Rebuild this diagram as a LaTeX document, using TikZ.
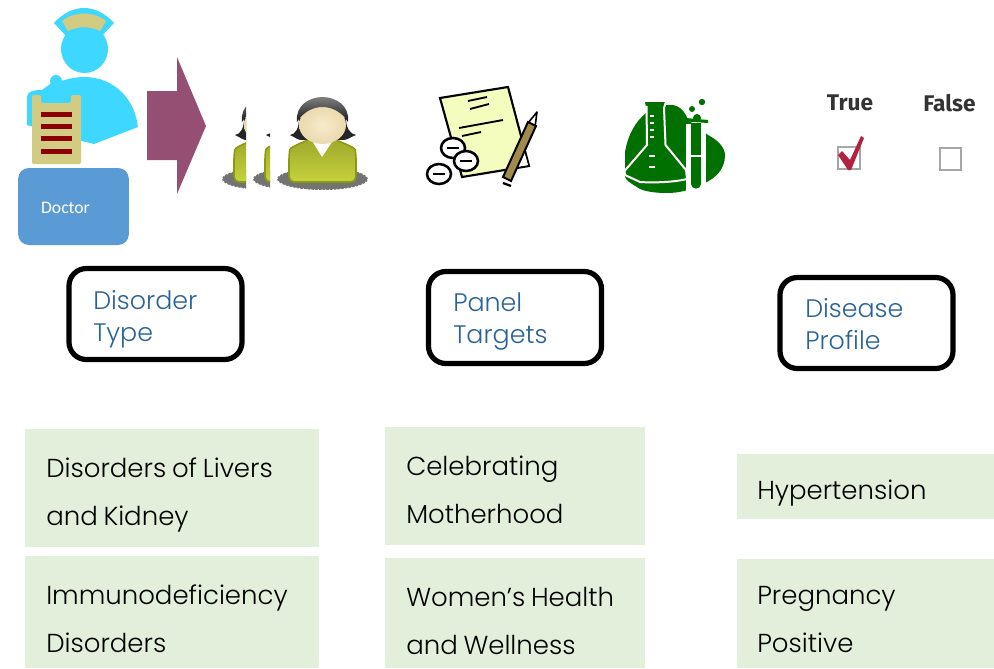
\documentclass[tikz,border=0pt]{standalone}
\usepackage{fontspec}
\setmainfont{Poppins Light}
\newfontfamily\palefont{Poppins Light}[WordSpace=0.8]
\newfontfamily\docfont{Carlito}
\newfontfamily\tffont{Fira Sans}
\usetikzlibrary{shapes.geometric}
\definecolor{nurse}{HTML}{3DD7FF}
\definecolor{clipb}{HTML}{D2CB82}
\definecolor{bar}{HTML}{8B0000}
\definecolor{docblue}{HTML}{5B9BD5}
\definecolor{plum}{HTML}{954F72}
\definecolor{labelblue}{HTML}{2A6496}
\definecolor{pale}{HTML}{E2EFDA}
\definecolor{paper}{HTML}{F5FDBE}
\definecolor{flask}{HTML}{007000}
\definecolor{pencil}{HTML}{A08B4C}
\definecolor{tick}{HTML}{B2213F}
\definecolor{shirttop}{HTML}{9DA92A}
\definecolor{shirtlow}{HTML}{C6D23C}
\definecolor{shirtedge}{HTML}{8A9A10}
\definecolor{face}{HTML}{F7EBCB}
\definecolor{faceedge}{HTML}{EBD9AE}
\tikzset{
  px/.style={x=0.75pt,y=-0.75pt},
  labelbox/.style={draw=black,line width=3.9pt,rounded corners=13pt,fill=white,
    minimum width=129.75pt},
  labeltext/.style={anchor=west,inner sep=0pt,align=left,text=labelblue,font=\fontsize{19}{24}\selectfont},
  palebox/.style={fill=pale,inner sep=0pt,anchor=north west},
  paletext/.style={anchor=west,inner sep=0pt,align=left,text=black,font=\palefont\fontsize{19.5}{36}\selectfont},
  oval/.style={draw=black,line width=1.9pt,fill=white},
  ink/.style={draw=black,line width=1.4pt},
  cutline/.style={draw=white,line width=1.5pt},
  tf/.style={font=\tffont\bfseries\fontsize{17}{20}\selectfont,text=black!80,inner sep=0pt},
}
\newcommand{\womanfig}{%
  \fill[black!55] (322.5,179) ellipse [x radius=45.5,y radius=11];
  \draw[white,line width=0.8pt,dotted] (322.5,179) ellipse [x radius=45.5,y radius=11];
  \fill[black!85] (299,118) .. controls (299,128) and (296,134) .. (290,135)
     .. controls (295,137) and (298,141) .. (304,140) -- (340,140)
     .. controls (347,141) and (350,137) .. (356,135)
     .. controls (350,134) and (346,128) .. (346,118) -- cycle;
  \draw[draw=shirtedge,line width=1.2pt,top color=shirttop,bottom color=shirtlow,rounded corners=4pt]
    (289,182) -- (289,155) .. controls (290,148) and (298,144) .. (311,139)
    -- (333,139) .. controls (346,144) and (355,148) .. (356,155) -- (356,182) -- cycle;
  \fill[white] (311,139) -- (322,157) -- (334,139) -- cycle;
  \shade[inner color=face,outer color=faceedge] (322.5,125) ellipse [x radius=23.5,y radius=19];
  \shade[top color=black!50,bottom color=black!90] (297,122) .. controls (295,105) and (310,97) .. (322.5,97)
     .. controls (335,97) and (350,105) .. (348,122)
     .. controls (342,112) and (332,107) .. (322.5,107)
     .. controls (313,107) and (303,112) .. (297,122) -- cycle;
}
\begin{document}
\begin{tikzpicture}[px]
\useasboundingbox (0,0) rectangle (994,668);
% nurse
\fill[nurse] (54,23) .. controls (72,3) and (96,3) .. (114,23) -- (100,38) -- (68,38) -- cycle;
\fill[nurse] (84.5,49) ellipse [x radius=23.5,y radius=24];
\fill[clipb] (62,21) .. controls (74,11) and (94,11) .. (106,21) -- (100,31) .. controls (90,26) and (78,26) .. (68,31) -- cycle;
\fill[nurse] (56,81) circle (6);
\fill[nurse] (27,125) -- (27,97) .. controls (27,92) and (32,90) .. (42,90) -- (50,84)
   .. controls (60,82) and (70,77) .. (84,77) .. controls (115,77) and (135,100) .. (138,127)
   -- (94,144) -- (70,138) -- cycle;
\fill[clipb,rounded corners=1pt] (32,95) -- (41,95) -- (41,103) -- (71,103) -- (71,95) -- (81,95) -- (81,164) -- (32,164) -- cycle;
\foreach \yy in {112,124,136,149} \fill[bar] (41,\yy) rectangle (72,\yy+5);
\node[fill=docblue,rounded corners=8pt,minimum width=83pt,minimum height=57.75pt,inner sep=0pt] (doctor) at (73.5,206.5) {};
\node[text=white,font=\docfont\fontsize{13.2}{15}\selectfont,inner sep=0pt] (doctorlabel) at (65.5,207.5) {Doctor};
% big arrow
\fill[plum] (147,91) -- (177,91) -- (177,57) -- (206,126) -- (177,194) -- (177,160) -- (147,160) -- cycle;
% women
\begin{scope}\clip (222,100) rectangle (246,195);\begin{scope}[shift={(-55,0)}]\womanfig\end{scope}\end{scope}
\begin{scope}\clip (253,100) rectangle (270,195);\begin{scope}[shift={(-24,0)}]\womanfig\end{scope}\end{scope}
\womanfig
% paper
\draw[draw=black,line width=1.6pt,fill=paper,line join=miter] (440,98) -- (508,87) -- (529,166) -- (462,177) -- cycle;
\fill[white] (524,151) -- (528,165) -- (517,167) -- cycle;
\draw[ink] (468,101) -- (487,97);
\draw[ink] (470,109) -- (489,104);
\draw[ink] (459,128) -- (503,120);
\draw[ink] (462,136) -- (481,132);
\path[oval] (453,148) ellipse [x radius=12,y radius=10];
\path[oval] (466,161) ellipse [x radius=12,y radius=10];
\path[oval] (439,174) ellipse [x radius=12,y radius=10];
\draw[ink] (447,148) -- (459,148);
\draw[ink] (460,161) -- (472,161);
\draw[ink] (433,174) -- (445,174);
\draw[draw=black,line width=1.2pt,fill=white,line join=round] (528,123) -- (537,112) -- (535,127) -- cycle;
\draw[draw=black,line width=1.5pt,fill=pencil] (528,122) -- (536,126) -- (511,181) -- (503,177) -- cycle;
\draw[ink,line width=1.7pt] (503,183) -- (511,186);
% flask
\fill[flask] (625,152) .. controls (628,135) and (635,122) .. (646,113) -- (663,106)
   .. controls (672,103) and (683,105) .. (688,120) -- (708,135)
   .. controls (718,140) and (725,148) .. (725,155)
   .. controls (725,170) and (715,178) .. (705,183)
   .. controls (690,190) and (680,193) .. (667,193)
   .. controls (650,193) and (640,190) .. (637,187)
   .. controls (630,183) and (626,180) .. (625,177) -- cycle;
\fill[flask] (645,102) -- (665,102) -- (663,108) -- (665,145) -- (685,172) -- (687,179)
   .. controls (670,181) and (650,181) .. (640,181) -- (625,175) -- (625,170) -- (647,145) -- (647,112) -- cycle;
\draw[cutline,line join=round] (646.5,106) -- (647,145) -- (624.5,171) -- (625,175) -- (640,182) .. controls (655,183) and (675,182) .. (687,179) -- (686,170) -- (665.5,145) -- (664,108) -- (666,102);
\draw[cutline] (650,116) -- (654,116) (650,123) -- (654,123) (650,130) -- (654,130) (650,137) -- (654,137);
\draw[cutline,line width=1.9pt] (649,156) -- (655,156) (649,167) -- (655,167);
\fill[white] (686,124) rectangle (706,192);
\fill[flask] (680,117.5) -- (708,120) -- (708,123) -- (680,121) -- cycle;
\fill[flask] (691,123) rectangle (701,155);
\fill[flask] (691,157) -- (701,157) -- (701,184) .. controls (701,190) and (691,190) .. (691,184) -- cycle;
\fill[flask] (692,109) circle (3);
\fill[flask] (702,102) circle (3.2);
\fill[flask] (697,118) circle (4);
% true / false
\node[tf] (truelabel) at (850,103) {True};
\node[tf] (falselabel) at (949.5,103) {False};
\draw[draw=black!35,line width=1.2pt] (838,147) rectangle (860,169);
\draw[draw=black!35,line width=1.2pt] (940,148) rectangle (961,170);
\fill[tick] (838,155) -- (842,151) -- (850,160) -- (861,136) -- (864,138) -- (851,170) -- (848,170) -- cycle;
% label boxes
\node[labelbox,minimum height=68.25pt] (disorder) at (155.5,314) {};
\node[labelbox,minimum height=69pt] (panel) at (515,317.5) {};
\node[labelbox,minimum height=68.25pt] (profile) at (866.5,323) {};
\node[labeltext] (disordertext) at (93,319) {Disorder\\Type};
\node[labeltext] (paneltext) at (453,322) {Panel\\Targets};
\node[labeltext] (profiletext) at (805,324) {Disease\\Profile};
% pale boxes
\node[palebox,minimum width=220.5pt,minimum height=88.5pt] (a) at (25,429) {};
\node[palebox,minimum width=220.5pt,minimum height=84pt] (b) at (25,556) {};
\node[palebox,minimum width=195pt,minimum height=88.5pt] (c) at (385,427) {};
\node[palebox,minimum width=195pt,minimum height=82.5pt] (d) at (385,558) {};
\node[palebox,minimum width=192.75pt,minimum height=48.75pt] (e) at (737,454) {};
\node[palebox,minimum width=192.75pt,minimum height=81.75pt] (f) at (737,559) {};
\node[paletext] (atext) at (46,495) {Disorders of Livers\\and Kidney};
\node[paletext] (btext) at (46,619) {Immunodeficiency\\Disorders};
\node[paletext] (ctext) at (406,490) {Celebrating\\Motherhood};
\node[paletext] (dtext) at (406,621) {Women’s Health\\and Wellness};
\node[paletext] (etext) at (757,493) {Hypertension};
\node[paletext] (ftext) at (757,620) {Pregnancy\\Positive};
\end{tikzpicture}
\end{document}
